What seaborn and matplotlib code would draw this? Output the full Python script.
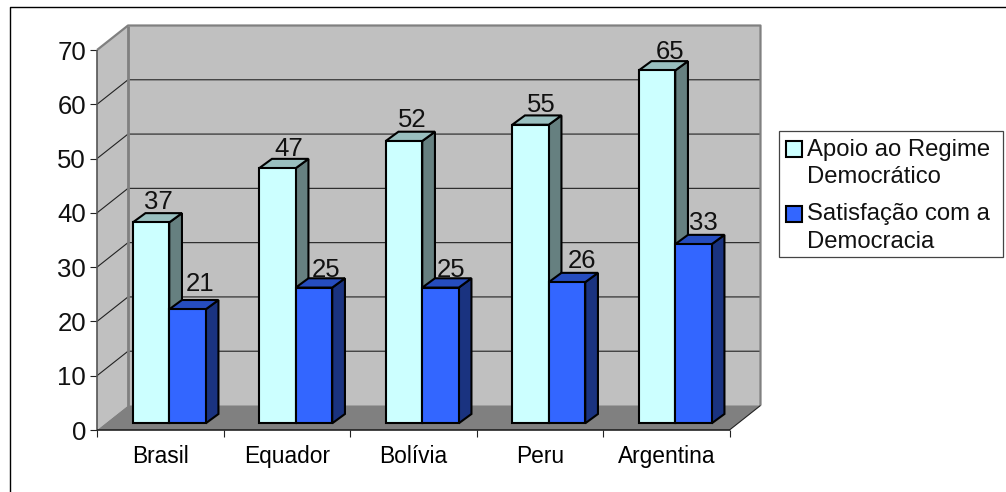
import matplotlib
matplotlib.use("Agg")
import matplotlib.pyplot as plt
import pandas as pd
import seaborn as sns
from matplotlib.lines import Line2D
from matplotlib.patches import Polygon, Rectangle
from matplotlib.transforms import Affine2D, IdentityTransform

paises = ["Brasil", "Equador", "Bolívia", "Peru", "Argentina"]
apoio = [37, 47, 52, 55, 65]
satisfacao = [21, 25, 25, 26, 33]
serie_apoio = "Apoio ao Regime\nDemocrático"
serie_satisfacao = "Satisfação com a\nDemocracia"

W, H = 1006, 492
FRONT_L, FRONT_R, FRONT_TOP, FRONT_BASE = 97, 729.5, 50, 430
WALL_DX, WALL_DY = 31, 24.5      # depth of the whole chart box
BAR_DX, BAR_DY = 9, 6.7          # where the bars stand on the floor
CAP_DX, CAP_DY = 12.7, 9.3       # depth of each bar
LINE = 1.5

# Hand placement of the value labels, in pixels, series by series
AJUSTE_ROTULOS = [
    [(-3, 3), (1, 2), (-2, 4), (0, 2), (3, 1)],
    [(2, 8), (2, 0), (0, 0), (5, 4), (-1, 4)],
]

CORES = {
    serie_apoio: ("#CCFFFF", "#668080", "#99BFBF"),
    serie_satisfacao: ("#3366FF", "#1A3380", "#264DBF"),
}

sns.set_style("white")
plt.rcParams["font.family"] = ["Liberation Sans", "DejaVu Sans"]

dados = pd.DataFrame({
    "pais": paises * 2,
    "valor": apoio + satisfacao,
    "serie": [serie_apoio] * len(paises) + [serie_satisfacao] * len(paises),
})

fig = plt.figure(figsize=(W / 100, H / 100), dpi=100, facecolor="white")
ax = fig.add_axes([FRONT_L / W, 1 - FRONT_BASE / H,
                   (FRONT_R - FRONT_L) / W, (FRONT_BASE - FRONT_TOP) / H])
sns.barplot(data=dados, x="pais", y="valor", hue="serie", order=paises,
            hue_order=[serie_apoio, serie_satisfacao],
            palette={k: v[0] for k, v in CORES.items()},
            saturation=1, width=0.577, gap=0, legend=False,
            edgecolor="black", linewidth=LINE, ax=ax, zorder=5)
ax.set_xlim(-0.5, 4.5)
ax.set_ylim(0, 70)
ax.set_xlabel("")
ax.set_ylabel("")
ax.patch.set_visible(False)
for s in ax.spines.values():
    s.set_visible(False)

ax.set_yticks(range(0, 71, 10))
ax.set_xticks([i - 0.5 for i in range(len(paises) + 1)], minor=True)
ax.set_xticks(range(len(paises)), paises)
ax.tick_params(axis="x", which="major", length=0, labelsize=16.4, pad=11, colors="black")
ax.tick_params(axis="x", which="minor", length=5, width=0.8, color="#222222", bottom=True)
ax.tick_params(axis="y", length=5, width=0.8, color="#222222", labelsize=18.5, pad=3,
               left=True, labelcolor="#111111")


def px(x, y, dx=0.0, dy=0.0):
    """Display position of a data point pushed back into the box."""
    a, b = ax.transData.transform((x, y))
    return a + dx, b + dy


def face(points, color, z, edge="none", lw=0.0):
    ax.add_patch(Polygon(points, closed=True, facecolor=color, edgecolor=edge, linewidth=lw,
                         transform=IdentityTransform(), clip_on=False, zorder=z,
                         joinstyle="miter"))


def line(points, color, lw, z):
    xs, ys = zip(*points)
    ax.add_line(Line2D(xs, ys, color=color, lw=lw, transform=IdentityTransform(),
                       clip_on=False, zorder=z, solid_capstyle="butt"))


xa, xb = ax.get_xlim()
ya, yb = ax.get_ylim()

# Box walls and floor
face([px(xa, ya), px(xa, yb), px(xa, yb, WALL_DX, WALL_DY), px(xa, ya, WALL_DX, WALL_DY)], "#C0C0C0", 0)
face([px(xa, ya, WALL_DX, WALL_DY), px(xa, yb, WALL_DX, WALL_DY),
      px(xb, yb, WALL_DX, WALL_DY), px(xb, ya, WALL_DX, WALL_DY)], "#C0C0C0", 0)
face([px(xa, ya), px(xb, ya), px(xb, ya, WALL_DX, WALL_DY), px(xa, ya, WALL_DX, WALL_DY)], "#808080", 1)

# Gridlines run along the left wall and across the back wall
for v in range(10, 70, 10):
    line([px(xa, v), px(xa, v, WALL_DX, WALL_DY), px(xb, v, WALL_DX, WALL_DY)], "#222222", 0.8, 2)

# Wall outlines
line([px(xa, yb), px(xa, yb, WALL_DX, WALL_DY), px(xb, yb, WALL_DX, WALL_DY),
      px(xb, ya, WALL_DX, WALL_DY)], "#808080", 1.6, 3)
line([px(xa, ya, WALL_DX, WALL_DY), px(xa, yb, WALL_DX, WALL_DY)], "#808080", 2.0, 3)
line([px(xb, ya), px(xb, ya, WALL_DX, WALL_DY)], "#222222", 0.8, 3)

# Axis lines on the front plane
line([px(xa, ya), px(xa, yb)], "#555555", 1.2, 4)
line([px(xa, ya), px(xb, ya)], "#222222", 1.2, 4)

# Bars get moved back onto the floor, then gain side and top faces
deslocar = ax.transData + Affine2D().translate(BAR_DX, BAR_DY)
z = 5.0
for container, nome, ajustes in zip(ax.containers, [serie_apoio, serie_satisfacao], AJUSTE_ROTULOS):
    _, lateral, topo = CORES[nome]
    for bar, (ax_dx, ax_dy) in zip(container, ajustes):
        bar.set_transform(deslocar)
        bar.set_clip_on(False)
        x0, x1, h = bar.get_x(), bar.get_x() + bar.get_width(), bar.get_height()
        o = (BAR_DX, BAR_DY)
        o2 = (BAR_DX + CAP_DX, BAR_DY + CAP_DY)
        face([px(x1, 0, *o), px(x1, h, *o), px(x1, h, *o2), px(x1, 0, *o2)], lateral, z, "black", LINE)
        face([px(x0, h, *o), px(x1, h, *o), px(x1, h, *o2), px(x0, h, *o2)], topo, z, "black", LINE)
        bar.set_zorder(z + 0.1)
        ax.text(*px(bar.get_x() + bar.get_width() / 2, h,
                    BAR_DX + 10.5 + ax_dx, BAR_DY + 10.5 + ax_dy),
                f"{h:.0f}", transform=IdentityTransform(), ha="center", va="baseline",
                fontsize=18.5, color="#111111", zorder=9, clip_on=False)
        z += 0.2

# Legend text and swatches sit on a fixed frame
fig.add_artist(Rectangle((778.7 / W, 1 - 256.7 / H), 224 / W, 126 / H,
                         transform=fig.transFigure, facecolor="white",
                         edgecolor="#444444", linewidth=0.9))
handles = [c[0] for c in ax.containers]
leg = fig.legend(handles, [serie_apoio, serie_satisfacao], loc="upper left",
                 bbox_to_anchor=(778.7 / W, 1 - 131.5 / H), bbox_transform=fig.transFigure,
                 borderaxespad=0, fontsize=17.2, frameon=False,
                 handlelength=0.68, handleheight=0.68,
                 handletextpad=0.2, borderpad=0.3, labelspacing=0.65)
for t in leg.get_texts():
    t.set_linespacing(1.31)
    t.set_color("#111111")
for h in leg.legend_handles:
    h.set_y(h.get_y() + 10.4)
    h.set_linewidth(LINE)

# Chart area outline: top and left only
fig.add_artist(Line2D([9.5 / W, 9.5 / W, 1], [0, 1 - 6.5 / H, 1 - 6.5 / H],
                      color="black", lw=1.0, transform=fig.transFigure))

fig.savefig("out.png", dpi=100)
